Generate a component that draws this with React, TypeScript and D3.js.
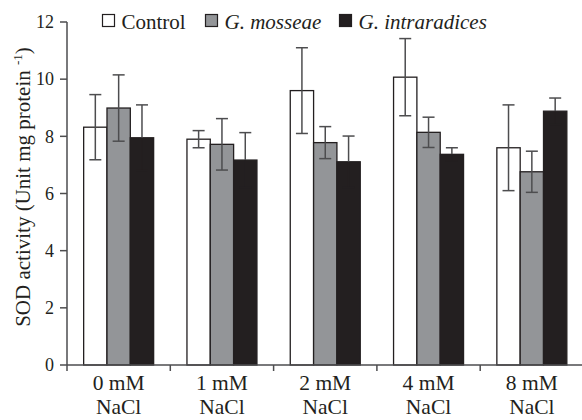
import React from 'react';
import * as d3 from 'd3';

// NaCl levels on the x axis
const categories = ['0 mM', '1 mM', '2 mM', '4 mM', '8 mM'];
const seriesNames = ['Control', 'G. mosseae', 'G. intraradices'];

// SOD activity means and error (± SE)
const control = [8.32, 7.9, 9.6, 10.07, 7.6];
const controlErr = [1.14, 0.3, 1.5, 1.35, 1.5];
const mosseae = [8.99, 7.72, 7.78, 8.14, 6.76];
const mosseaeErr = [1.16, 0.9, 0.56, 0.53, 0.72];
const intraradices = [7.95, 7.17, 7.11, 7.37, 8.88];
const intraradicesErr = [1.15, 0.96, 0.9, 0.23, 0.46];

const yTicks = [0, 2, 4, 6, 8, 10, 12];

const W = 582;
const H = 420;
const FONT = '"Liberation Serif", "Times New Roman", serif';
const fills = ['#ffffff', '#939598', '#231f20'];
const axisColor = '#4d4d4f';

const App = () => {
  const x = d3.scaleBand().domain(categories).range([67, 583.5]).paddingInner(0).paddingOuter(0);
  const inner = d3.scaleBand().domain(seriesNames).range([0, x.bandwidth()]).paddingInner(0).paddingOuter(0.714);
  const y = d3.scaleLinear().domain([0, 12]).range([365, 22]);

  const values = [control, mosseae, intraradices];
  const errors = [controlErr, mosseaeErr, intraradicesErr];
  const bw = inner.bandwidth();
  const cap = 6;

  const [x0, x1] = x.range();
  const boundaries = [...categories.map(c => x(c)), x1];

  return (
    <svg width={W} height={H} style={{ position: 'absolute', left: 0, top: 0, background: '#fff' }} fontFamily={FONT}>
      {/* bars */}
      {categories.map((c, i) => (
        <g key={c} transform={`translate(${x(c)},0)`}>
          {seriesNames.map((s, k) => (
            <rect
              key={s}
              x={inner(s)}
              y={y(values[k][i])}
              width={bw}
              height={y(0) - y(values[k][i])}
              fill={fills[k]}
              stroke="#231f20"
              strokeWidth={1.3}
            />
          ))}
          {seriesNames.map((s, k) => {
            const cx = inner(s) + bw / 2;
            const hi = y(values[k][i] + errors[k][i]);
            const lo = y(values[k][i] - errors[k][i]);
            const col = k === 2 ? '#231f20' : axisColor;
            return (
              <g key={s + 'e'} stroke={col} strokeWidth={1.5}>
                <line x1={cx} x2={cx} y1={hi} y2={y(values[k][i])} stroke={axisColor} />
                <line x1={cx} x2={cx} y1={y(values[k][i])} y2={lo} />
                <line x1={cx - cap} x2={cx + cap} y1={hi} y2={hi} stroke={axisColor} />
                <line x1={cx - cap} x2={cx + cap} y1={lo} y2={lo} />
              </g>
            );
          })}
        </g>
      ))}

      {/* y axis */}
      <line x1={x0} x2={x0} y1={y(12)} y2={y(0)} stroke={axisColor} strokeWidth={1.5} />
      {yTicks.map(t => (
        <g key={t}>
          <line x1={x0 - 7} x2={x0} y1={y(t)} y2={y(t)} stroke={axisColor} strokeWidth={1.5} />
          <text x={x0 - 13} y={y(t)} dy="0.35em" textAnchor="end" fontSize={18} fill="#231f20">
            {t}
          </text>
        </g>
      ))}

      {/* x axis */}
      <line x1={x0} x2={x1} y1={y(0)} y2={y(0)} stroke={axisColor} strokeWidth={1.5} />
      {boundaries.map((b, i) => (
        <line key={i} x1={b} x2={b} y1={y(0)} y2={y(0) + 6} stroke={axisColor} strokeWidth={1.5} />
      ))}
      {categories.map(c => (
        <text key={c} x={x(c) + x.bandwidth() / 2} textAnchor="middle" fontSize={21.5} fill="#231f20">
          <tspan x={x(c) + x.bandwidth() / 2} y={389.5}>{c}</tspan>
          <tspan x={x(c) + x.bandwidth() / 2} y={413.5}>NaCl</tspan>
        </text>
      ))}

      {/* y title */}
      <text transform={`translate(30,187) rotate(-90)`} textAnchor="middle" fontSize={21} fill="#231f20">
        SOD activity (Unit mg protein <tspan fontSize={13} dy={-8}>-1</tspan>
        <tspan dy={8}>)</tspan>
      </text>

      {/* legend */}
      {seriesNames.map((s, k) => {
        const bx = [102.5, 205.5, 339.5][k];
        return (
          <g key={s}>
            <rect x={bx} y={14.5} width={12} height={12} fill={fills[k]} stroke="#231f20" strokeWidth={1.2} />
            <text x={bx + 19} y={28.5} fontSize={21} fontStyle={k === 0 ? 'normal' : 'italic'} fill="#231f20">
              {s}
            </text>
          </g>
        );
      })}
    </svg>
  );
};

export default App;
